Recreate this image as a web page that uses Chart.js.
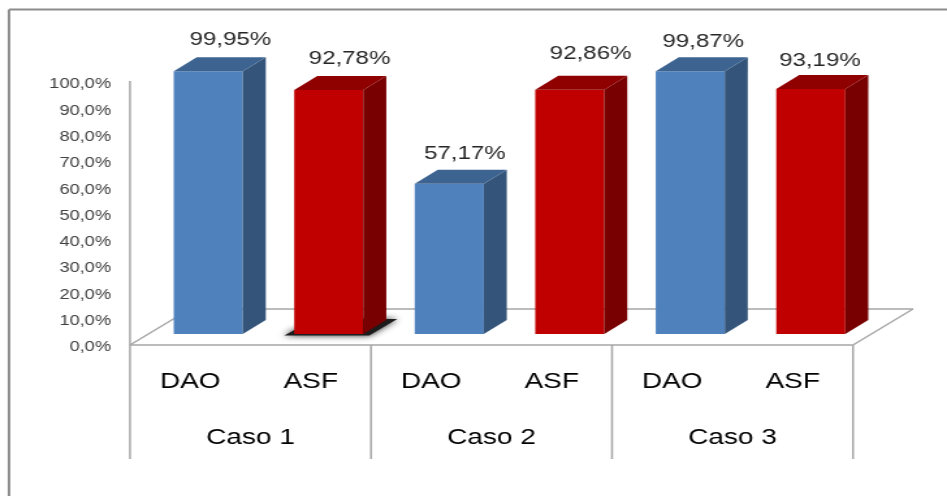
<!DOCTYPE html>
<html>
<head>
<meta charset="utf-8">
<title>DAO x ASF</title>
<script src="https://cdn.jsdelivr.net/npm/chart.js@4/dist/chart.umd.min.js"></script>
<style>
html,body{margin:0;padding:0;background:#fff;overflow:hidden}
/* the drawing is done on a narrower canvas and widened, which gives the wide lettering */
#chart{display:block;width:947px;height:496px}
</style>
</head>
<body>
<canvas id="chart" width="728" height="496" style="width:947px;height:496px"></canvas>
<script>
var methods = ['DAO', 'ASF'];
var cases = ['Caso 1', 'Caso 2', 'Caso 3'];
var daoValues = [99.95, 57.17, 99.87];
var asfValues = [92.78, 92.86, 93.19];
var yTicks = [0, 10, 20, 30, 40, 50, 60, 70, 80, 90, 100];

// hand placed value labels, in canvas px from the centre of the bar front
var labelDx = [17, 16, 12, 16, 10, 7];
var labelDy = [-31, -31, -30, -36, -29, -28];

var widen = 947 / 728;
function cx(x) { return x / widen; }

var barLabels = [];
var daoData = [];
var asfData = [];
cases.forEach(function (c, i) {
  barLabels.push(methods[0], methods[1]);
  daoData.push(daoValues[i], null);
  asfData.push(null, asfValues[i]);
});

function comma(v, digits) { return v.toFixed(digits).replace('.', ','); }

var depthX = cx(23), depthY = 14;
var frontDrop = 11;           // front edge of the floor sits below the bar bases
var axisX = cx(130);

function line(ctx, x1, y1, x2, y2) {
  ctx.beginPath();
  ctx.moveTo(x1, y1);
  ctx.lineTo(x2, y2);
  ctx.stroke();
}

function poly(ctx, pts, fill) {
  ctx.beginPath();
  pts.forEach(function (p, i) { i ? ctx.lineTo(p[0], p[1]) : ctx.moveTo(p[0], p[1]); });
  ctx.closePath();
  ctx.fillStyle = fill;
  ctx.fill();
}

var floorPlugin = {
  id: 'floor',
  beforeDatasetsDraw: function (chart) {
    var ctx = chart.ctx;
    var y = chart.scales.y;
    var x2 = chart.scales.xCase;
    var floorY = y.getPixelForValue(0) + frontDrop;
    var topY = y.getPixelForValue(100) + frontDrop - 1;
    var right = axisX + (x2.right - x2.left);
    var backY = floorY - 36, backDx = cx(60);

    ctx.save();
    // outer frame, top and left only
    ctx.strokeStyle = '#8c8c8c';
    ctx.lineWidth = 2;
    line(ctx, cx(9), 9.5, chart.width, 9.5);
    line(ctx, cx(9), 9.5, cx(9), chart.height);

    ctx.strokeStyle = '#a6a6a6';
    ctx.lineWidth = 1.5;
    line(ctx, axisX, topY, axisX, floorY);
    line(ctx, axisX, floorY, right, floorY);
    line(ctx, axisX, floorY, axisX + backDx, backY);
    line(ctx, axisX + backDx, backY, right + backDx, backY);
    line(ctx, right, floorY, right + backDx, backY);

    // separators under the floor
    var groupW = (x2.right - x2.left) / cases.length;
    for (var i = 0; i <= cases.length; i++) {
      line(ctx, axisX + groupW * i, floorY, axisX + groupW * i, 459);
    }

    // dark shadow left under the first ASF bar
    var bar = chart.getDatasetMeta(1).data[1];
    var l = bar.x - bar.width / 2, r = bar.x + bar.width / 2, b = bar.base;
    ctx.shadowColor = 'rgba(0,0,0,0.85)';
    ctx.shadowBlur = 6;
    poly(ctx, [[l - cx(10), b + 1.5], [r + cx(6), b + 1.5], [r + cx(34), b - 15], [r, b - 15], [l, b - 4]], '#1c1c1c');
    ctx.restore();
  }
};

var barSidesPlugin = {
  id: 'barSides',
  afterDatasetsDraw: function (chart) {
    var ctx = chart.ctx;
    var shades = [
      { top: '#3d6491', side: '#345579' },
      { top: '#8f0000', side: '#780000' }
    ];
    chart.data.datasets.forEach(function (ds, d) {
      chart.getDatasetMeta(d).data.forEach(function (bar, i) {
        if (ds.data[i] == null) return;
        var l = bar.x - bar.width / 2, r = bar.x + bar.width / 2;
        poly(ctx, [[r, bar.y], [r + depthX, bar.y - depthY], [r + depthX, bar.base - depthY], [r, bar.base]], shades[d].side);
        poly(ctx, [[l, bar.y], [l + depthX, bar.y - depthY], [r + depthX, bar.y - depthY], [r, bar.y]], shades[d].top);

        ctx.save();
        ctx.font = '18.5px "Liberation Sans", Arial, sans-serif';
        ctx.fillStyle = '#262626';
        ctx.textAlign = 'center';
        ctx.textBaseline = 'middle';
        ctx.fillText(comma(ds.data[i], 2) + '%', bar.x + labelDx[i], bar.y + labelDy[i]);
        ctx.restore();
      });
    });
  }
};

var font = '"Liberation Sans", Arial, sans-serif';

new Chart(document.getElementById('chart'), {
  type: 'bar',
  data: {
    labels: barLabels,
    datasets: [
      { label: methods[0], data: daoData, backgroundColor: '#4f81bd', grouped: false, barPercentage: 0.573, categoryPercentage: 1 },
      { label: methods[1], data: asfData, backgroundColor: '#c00000', grouped: false, barPercentage: 0.573, categoryPercentage: 1 }
    ]
  },
  options: {
    responsive: false,
    animation: false,
    layout: { padding: { left: 0, right: 728 - cx(871), top: 71, bottom: 0 } },
    plugins: { legend: { display: false }, tooltip: { enabled: false } },
    scales: {
      y: {
        min: 0,
        max: 100,
        afterBuildTicks: function (s) { s.ticks = yTicks.map(function (v) { return { value: v }; }); },
        afterFit: function (s) { s.width = cx(148); },
        grid: { display: false, drawTicks: false },
        border: { display: false },
        ticks: {
          padding: cx(37),
          labelOffset: frontDrop + 2.5,
          color: '#404040',
          font: { family: font, size: 14 },
          callback: function (v) { return comma(v, 1) + '%'; }
        }
      },
      x: {
        afterFit: function (s) { s.height = 56; },
        grid: { display: false, drawTicks: false },
        border: { display: false },
        ticks: {
          padding: 35,
          labelOffset: -cx(18),
          autoSkip: false,
          maxRotation: 0,
          color: '#000',
          font: { family: font, size: 21.5 }
        }
      },
      xCase: {
        type: 'category',
        labels: cases,
        position: 'bottom',
        weight: 1,
        afterFit: function (s) { s.height = 106; },
        grid: { display: false, drawTicks: false },
        border: { display: false },
        ticks: {
          padding: 35,
          labelOffset: -cx(18),
          autoSkip: false,
          maxRotation: 0,
          color: '#000',
          font: { family: font, size: 21.5 }
        }
      }
    }
  },
  plugins: [floorPlugin, barSidesPlugin]
});
</script>
</body>
</html>
